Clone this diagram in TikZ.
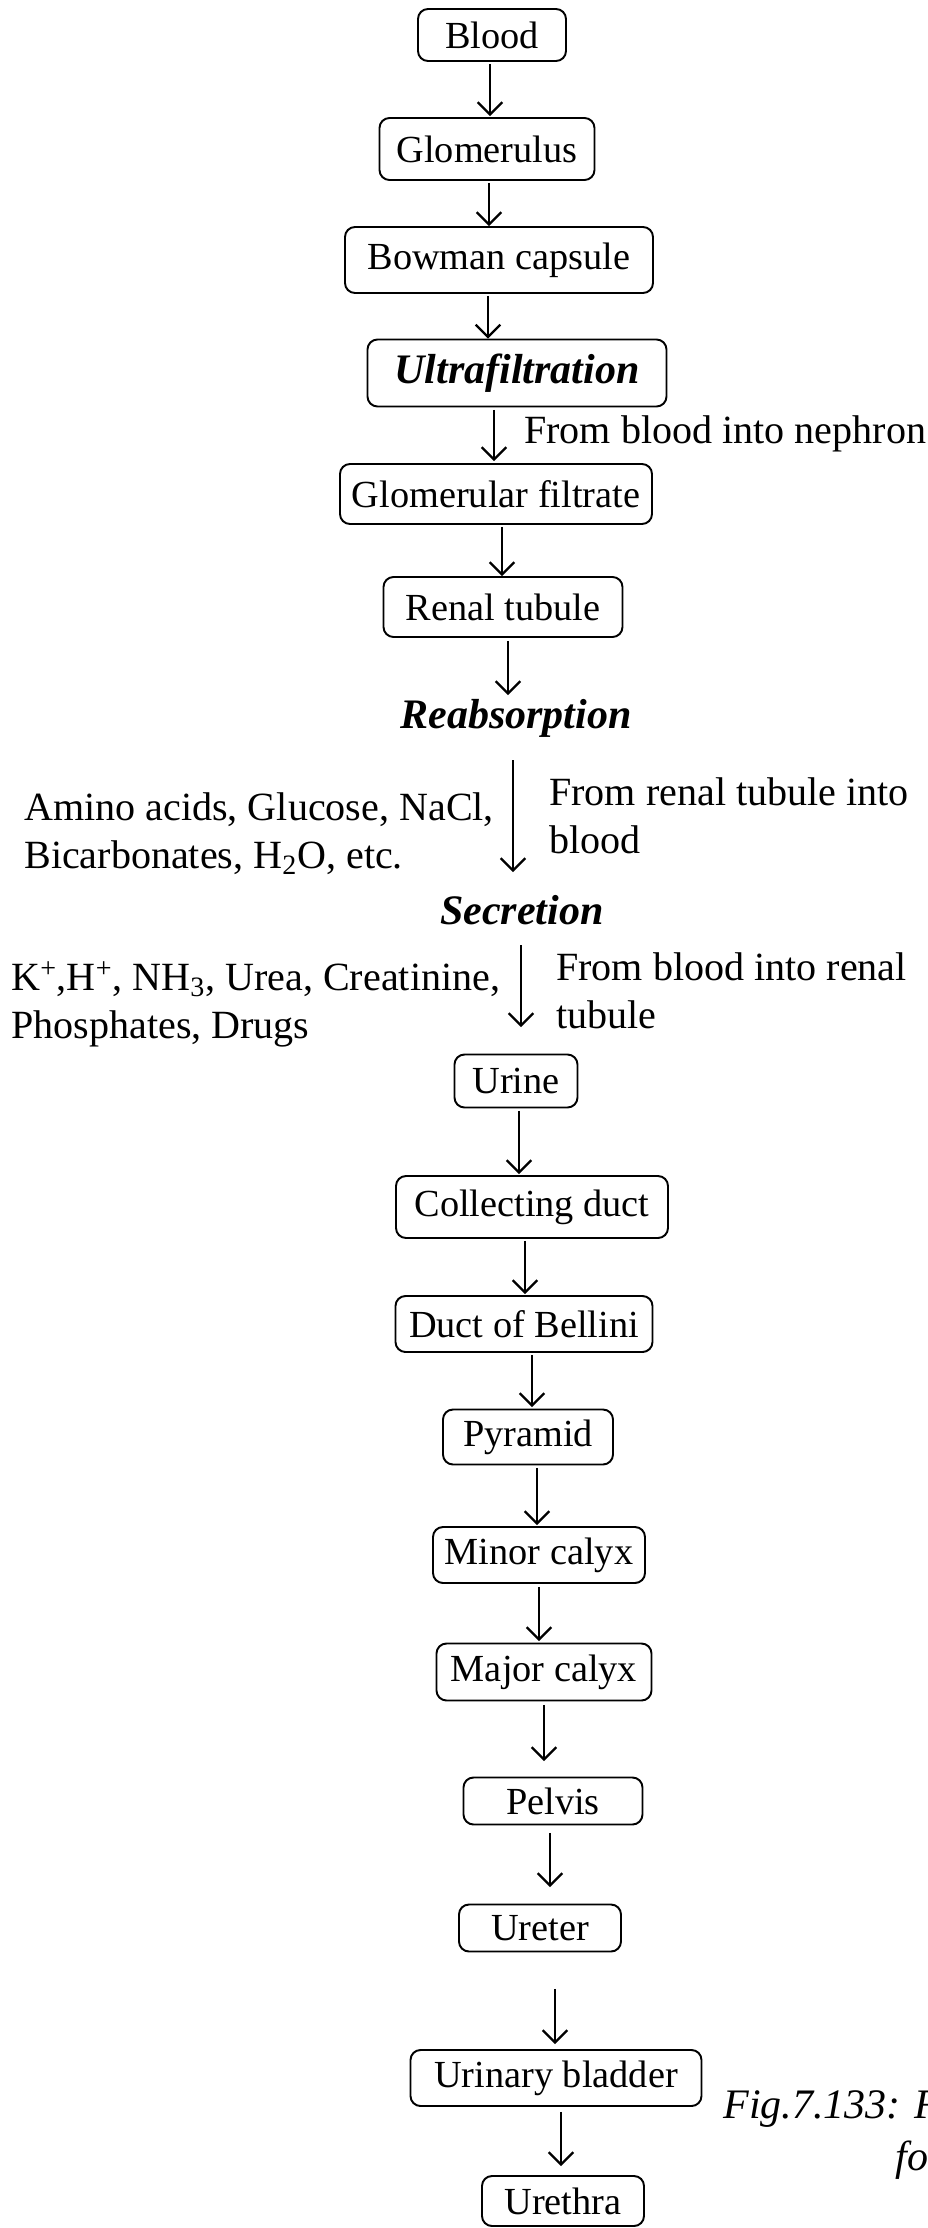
\documentclass[tikz,border=0pt]{standalone}
\usepackage{fontspec}
\setmainfont{Liberation Serif}
\usetikzlibrary{arrows.meta}
\newdimen\pxu
\pxu=0.02cm
\tikzset{
  box/.style={draw, line width=1.1pt, rounded corners=10\pxu, inner sep=0pt,
    align=center, font=\fontsize{21.8}{26}\selectfont},
  arr/.style={line width=1.3pt, -{Straight Barb[length=7pt,width=14pt,line width=1.3pt]}},
  side/.style={inner sep=0pt, anchor=base west, align=left, font=\fontsize{22.8}{26.9}\selectfont},
  head/.style={inner sep=0pt, anchor=base, font=\fontsize{23.9}{28}\selectfont\bfseries\itshape},
  figcap/.style={inner sep=0pt, anchor=base west, font=\fontsize{23.9}{28}\selectfont\itshape},
}
\begin{document}
\begin{tikzpicture}[x=0.02cm, y=-0.02cm]
\useasboundingbox (0,0) rectangle (928,2228);
\fill[white] (0,0) rectangle (928,2228);
\clip (0,0) rectangle (928,2228);

% boxes
\node[box, minimum width=148\pxu, minimum height=52\pxu] (blood) at (492,35) {Blood};
\node[box, minimum width=215\pxu, minimum height=62\pxu] (glom) at (487,149) {Glomerulus};
\node[box, minimum width=308\pxu, minimum height=66\pxu] (bow) at (499,260) {Bowman capsule};
\node[box, minimum width=299\pxu, minimum height=67\pxu, font=\fontsize{23.9}{28}\selectfont\bfseries\itshape] (ultra) at (517,373) {Ultrafiltration};
\node[box, minimum width=312\pxu, minimum height=60\pxu] (gf) at (496,494) {Glomerular filtrate};
\node[box, minimum width=239\pxu, minimum height=60\pxu] (rt) at (503,607) {Renal tubule};
\node[box, minimum width=123\pxu, minimum height=53\pxu] (urine) at (516,1081) {Urine};
\node[box, minimum width=272\pxu, minimum height=62\pxu] (cd) at (532,1207) {Collecting duct};
\node[box, minimum width=257\pxu, minimum height=56\pxu] (db) at (524,1324) {Duct of Bellini};
\node[box, minimum width=170\pxu, minimum height=55\pxu] (pyr) at (528,1437) {Pyramid};
\node[box, minimum width=212\pxu, minimum height=56\pxu] (minor) at (539,1555) {Minor calyx};
\node[box, minimum width=215\pxu, minimum height=57\pxu] (major) at (544,1672) {Major calyx};
\node[box, minimum width=179\pxu, minimum height=47\pxu] (pelvis) at (553,1801) {Pelvis};
\node[box, minimum width=162\pxu, minimum height=47\pxu] (ureter) at (540,1928) {Ureter};
\node[box, minimum width=291\pxu, minimum height=56\pxu] (bladder) at (556,2078) {Urinary bladder};
\node[box, minimum width=162\pxu, minimum height=50\pxu] (urethra) at (563,2201) {Urethra};

% headings
\node[head] (reab) at (516,728) {Reabsorption};
\node[head] (sec) at (522,924) {Secretion};

% side texts (anchor = baseline of the last line)
\node[side] (neph) at (524,443) {From blood into nephron};
\node[side] (reabL) at (24,868) {Amino acids, Glucose, NaCl,\\Bicarbonates, H\textsubscript{2}O, etc.};
\node[side] (reabR) at (549,853) {From renal tubule into\\blood};
\node[side] (secL) at (11,1038) {K\textsuperscript{+},H\textsuperscript{+}, NH\textsubscript{3}, Urea, Creatinine,\\Phosphates, Drugs};
\node[side] (secR) at (556,1028) {From blood into renal\\tubule};

% caption (cut off at the right edge)
\node[figcap] (fig1) at (723,2118) {Fig.7.133: F};
\node[figcap] (fig2) at (895,2170) {fo};

% arrows
\draw[arr] ([shift={(-2,2)}]blood.south) -- ([shift={(3,-1)}]glom.north);
\draw[arr] ([shift={(2,2)}]glom.south) -- ([shift={(-10,0)}]bow.north);
\draw[arr] ([shift={(-11,2)}]bow.south) -- ([shift={(-29,0)}]ultra.north);
\draw[arr] ([shift={(-23,2.5)}]ultra.south) -- ([shift={(-2,-2)}]gf.north);
\draw[arr] ([shift={(6,2)}]gf.south) -- ([shift={(-1,0)}]rt.north);
\draw[arr] ([shift={(5,3)}]rt.south) -- ([shift={(-8,-33)}]reab.base);
\draw[arr] ([shift={(-3,32)}]reab.base) -- ([shift={(-9,-52)}]sec.base);
\draw[arr] ([shift={(-1,21)}]sec.base) -- ([shift={(5,-26.5)}]urine.north);
\draw[arr] ([shift={(3,2.5)}]urine.south) -- ([shift={(-13,-1)}]cd.north);
\draw[arr] ([shift={(-7,2)}]cd.south) -- ([shift={(1,-1)}]db.north);
\draw[arr] ([shift={(8,2)}]db.south) -- ([shift={(4,-1.5)}]pyr.north);
\draw[arr] ([shift={(9,2.5)}]pyr.south) -- ([shift={(-2,-1)}]minor.north);
\draw[arr] ([shift={(0,3)}]minor.south) -- ([shift={(-5,-1.5)}]major.north);
\draw[arr] ([shift={(0,3.5)}]major.south) -- ([shift={(-9,-15.5)}]pelvis.north);
\draw[arr] ([shift={(-3,7.5)}]pelvis.south) -- ([shift={(10,-16.5)}]ureter.north);
\draw[arr] ([shift={(15,36.5)}]ureter.south) -- ([shift={(-1,-5)}]bladder.north);
\draw[arr] ([shift={(5,5)}]bladder.south) -- ([shift={(-2,-9)}]urethra.north);
\end{tikzpicture}
\end{document}
